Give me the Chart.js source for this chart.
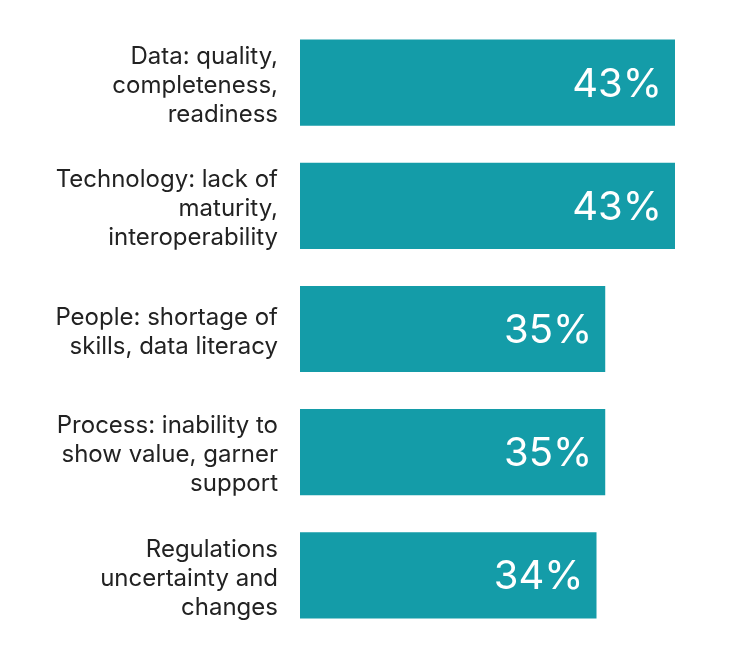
<!DOCTYPE html>
<html>
<head>
<meta charset="utf-8">
<script src="https://cdn.jsdelivr.net/npm/chart.js@4/dist/chart.umd.min.js"></script>
<style>
  html, body { margin: 0; padding: 0; background: #fff; }
  canvas { display: block; }
</style>
</head>
<body>
<canvas id="chart" width="730" height="660"></canvas>
<script>
// categories (multi-line labels) and values in percent
const categories = [
  ['Data: quality,', 'completeness,', 'readiness'],
  ['Technology: lack of', 'maturity,', 'interoperability'],
  ['People: shortage of', 'skills, data literacy'],
  ['Process: inability to', 'show value, garner', 'support'],
  ['Regulations', 'uncertainty and', 'changes']
];
const values = [43, 43, 35, 35, 34];
const xMax = 43;

const barColor = '#149ca8';
const fontFamily = 'Inter, "Liberation Sans", Arial, sans-serif';

// white value labels inside the bar ends
const valueLabels = {
  id: 'valueLabels',
  afterDatasetsDraw(chart) {
    const ctx = chart.ctx;
    const meta = chart.getDatasetMeta(0);
    ctx.save();
    ctx.fillStyle = '#ffffff';
    ctx.font = '40px ' + fontFamily;
    ctx.textAlign = 'right';
    ctx.textBaseline = 'middle';
    meta.data.forEach((bar, i) => {
      ctx.fillText(values[i] + '%', bar.x - 13, bar.y + 2);
    });
    ctx.restore();
  }
};

new Chart(document.getElementById('chart'), {
  type: 'bar',
  data: {
    labels: categories,
    datasets: [{
      data: values,
      backgroundColor: barColor,
      borderWidth: 0,
      barPercentage: 0.7,
      categoryPercentage: 1
    }]
  },
  options: {
    indexAxis: 'y',
    responsive: false,
    animation: false,
    layout: { padding: { left: 0, right: 55, top: 21, bottom: 23 } },
    plugins: {
      legend: { display: false },
      tooltip: { enabled: false }
    },
    scales: {
      x: {
        display: false,
        min: 0,
        max: xMax
      },
      y: {
        border: { display: false },
        grid: { display: false, drawTicks: false },
        ticks: {
          color: '#222222',
          padding: 22,
          labelOffset: 3,
          font: { size: 24, family: fontFamily, lineHeight: 1.21 }
        },
        afterFit(scale) {
          scale.width = 300;
          scale.paddingTop = 0;
          scale.paddingBottom = 0;
        }
      }
    }
  },
  plugins: [valueLabels]
});
</script>
</body>
</html>
